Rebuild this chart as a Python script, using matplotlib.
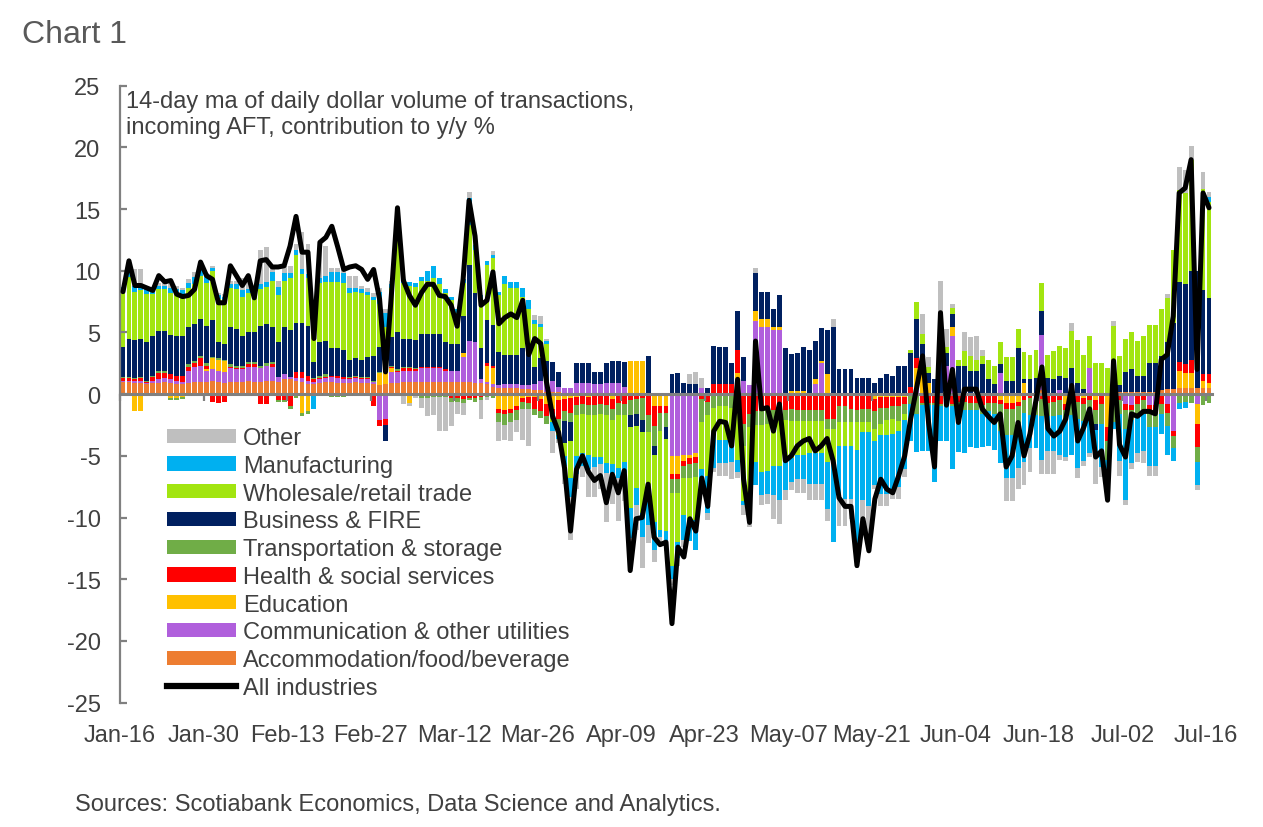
import numpy as np
import matplotlib
matplotlib.use("Agg")
import matplotlib.pyplot as plt
from matplotlib.patches import Patch
from matplotlib.lines import Line2D

plt.rcParams['font.family'] = ['Liberation Sans', 'DejaVu Sans']
plt.rcParams['axes.unicode_minus'] = False

tick_labels = ["Jan-16", "Jan-30", "Feb-13", "Feb-27", "Mar-12", "Mar-26", "Apr-09",
               "Apr-23", "May-07", "May-21", "Jun-04", "Jun-18", "Jul-02", "Jul-16"]

# All industries (line), daily from Jan-16 to Jul-16
all_ind = [
    8.3, 10.8, 8.8, 8.8, 8.6, 8.4, 9.6, 9.1, 9.2, 8.1,
    7.9, 8.0, 8.5, 10.7, 9.6, 9.3, 7.4, 7.4, 10.4, 9.6,
    8.8, 9.6, 7.8, 10.8, 10.9, 10.3, 10.3, 10.4, 12.0, 14.4,
    11.5, 11.5, 4.5, 12.3, 12.7, 13.6, 11.9, 10.1, 10.3, 10.4,
    10.1, 9.3, 10.1, 7.7, 1.8, 8.2, 15.1, 9.2, 8.0, 7.2,
    8.2, 8.9, 8.9, 8.0, 7.9, 7.2, 5.5, 9.3, 15.7, 12.8,
    7.2, 7.6, 9.9, 5.7, 6.2, 6.5, 6.2, 7.6, 3.2, 4.5,
    4.1, 0.9, -1.8, -3.1, -6.0, -11.1, -6.1, -5.0, -6.3, -7.0,
    -6.6, -8.8, -6.5, -8.0, -6.2, -14.3, -10.1, -10.0, -7.3, -11.6,
    -12.2, -12.0, -18.6, -12.4, -13.2, -10.1, -11.1, -6.8, -9.1, -3.0,
    -2.2, -2.3, -4.2, 1.2, -6.9, -10.4, 4.3, -1.2, -1.1, -3.0,
    -0.8, -5.4, -5.0, -4.2, -3.8, -3.6, -4.6, -4.2, -3.6, -5.4,
    -8.4, -9.1, -9.1, -13.9, -10.1, -12.7, -8.5, -6.9, -7.7, -8.0,
    -6.6, -5.0, -2.0, 0.5, 3.1, -2.3, -5.9, 6.6, -0.9, 2.0,
    -2.3, 0.4, 0.4, 0.4, -1.2, -1.8, -2.3, -1.6, -5.9, -5.0,
    -2.3, -5.0, -3.2, -0.5, 2.2, -2.8, -3.4, -3.0, -2.0, 0.7,
    -3.8, -2.7, -1.2, -5.1, -4.6, -8.6, 2.7, -4.1, -5.1, -1.6,
    -1.8, -1.4, -1.4, -1.6, 2.8, 3.2, 6.3, 16.3, 16.7, 19.0,
    2.0, 16.3, 15.1]

accommodation = [
    1.0, 1.0, 0.9, 0.9, 0.8, 0.9, 0.9, 1.0, 0.9, 0.8,
    0.8, 0.9, 1.0, 1.0, 1.0, 1.1, 1.0, 0.9, 1.0, 1.0,
    1.0, 1.1, 1.0, 1.0, 1.1, 1.1, 1.0, 1.2, 1.2, 1.1,
    1.0, 0.8, 0.8, 0.9, 1.0, 1.0, 0.9, 0.9, 0.9, 1.0,
    0.9, 0.9, 0.8, 0.7, 0.8, 0.9, 0.9, 1.0, 1.0, 1.0,
    1.0, 1.0, 1.0, 1.0, 1.0, 1.0, 1.0, 1.0, 1.0, 0.9,
    0.9, 0.8, 0.6, 0.5, 0.5, 0.5, 0.5, 0.4, 0.4, 0.3,
    0.3, 0.2, 0.2, 0.2, 0.1, 0.1, 0.1, 0.1, 0.1, 0.1,
    0.1, 0.1, 0.1, 0.1, 0.1, 0.1, 0.1, 0.1, 0.1, 0.1,
    0.1, 0.1, 0.1, 0.1, 0.1, 0.1, 0.1, 0.1, 0.1, 0.1,
    0.1, 0.1, 0.1, 0.1, 0.1, 0.1, 0.1, 0.1, 0.1, 0.1,
    0.1, 0.1, 0.1, 0.1, 0.1, 0.1, 0.1, 0.1, 0.1, 0.1,
    0.1, 0.1, 0.1, 0.1, 0.1, 0.1, 0.1, 0.1, 0.1, 0.1,
    0.1, 0.1, 0.1, 0.1, 0.1, 0.1, 0.1, 0.1, 0.1, 0.1,
    0.1, 0.1, 0.1, 0.1, 0.1, 0.1, 0.1, 0.1, 0.1, 0.1,
    0.1, 0.1, 0.1, 0.1, 0.3, 0.1, 0.1, 0.1, 0.1, 0.1,
    0.1, 0.1, 0.1, 0.1, 0.1, 0.1, 0.1, 0.2, 0.2, 0.2,
    0.2, 0.2, 0.2, 0.2, 0.3, 0.4, 0.4, 0.5, 0.5, 0.5,
    0.5, 0.5, 0.5]

communication = [
    0.1, 0.1, 0.2, 0.2, 0.1, 0.2, 0.3, 0.3, 0.3, 0.3,
    0.2, 1.0, 1.2, 1.3, 0.9, 0.9, 0.9, 0.9, 1.1, 1.0,
    1.0, 1.1, 1.2, 1.1, 1.2, 1.1, 0.4, 0.4, 0.2, 0.2,
    0.3, 0.3, 0.2, 0.3, 0.3, 0.4, 0.4, 0.3, 0.3, 0.3,
    0.3, 0.3, 0.2, -2.1, -2.0, 0.9, 0.9, 0.9, 0.9, 0.9,
    1.1, 1.1, 1.1, 1.1, 0.9, 0.9, 0.9, 2.0, 3.3, 3.3,
    0.3, 0.2, 0.2, 0.2, 0.3, 0.3, 0.3, 0.3, 0.3, 0.5,
    0.8, 0.9, 0.9, 0.4, 0.4, 0.4, 0.8, 0.8, 0.8, 0.7,
    0.7, 0.8, 0.8, 0.8, 0.5, 0.0, 0.0, 0.0, 0.0, 0.0,
    0.0, 0.0, -5.0, -5.0, -4.9, -4.9, -4.8, 0.4, 0.0, 0.0,
    0.0, 0.0, 0.0, 1.1, 1.0, 0.6, 5.8, 5.3, 5.3, 5.1,
    5.1, 0.0, 0.0, 0.0, 0.0, 0.0, 0.7, 2.4, 0.0, 0.0,
    0.0, 0.0, 0.0, 0.0, 0.0, 0.0, 0.0, 0.0, 0.0, 0.0,
    0.0, 0.0, 0.0, 0.4, 0.0, 0.0, 0.0, 0.0, 2.2, 4.6,
    0.0, 0.0, 0.0, 0.0, 0.0, 0.0, 0.0, 1.6, 0.0, 0.0,
    0.0, 0.0, 0.0, 0.0, 4.5, 0.0, 0.0, 0.2, 0.0, 0.0,
    0.0, 0.0, 2.0, 0.0, 0.0, 0.0, 0.0, 0.0, -0.8, -0.9,
    0.0, 0.0, -0.9, -0.9, 0.0, -0.8, -3.0, 0.0, 0.0, 0.0,
    -0.8, 0.0, 0.0]

education = [
    0.0, 0.0, -1.4, -1.4, 0.0, 0.0, 0.0, 0.0, -0.3, -0.3,
    -0.2, 0.0, 0.0, 0.0, 0.1, 0.9, 0.9, 0.9, 0.0, 0.0,
    0.0, 0.0, 0.0, 0.0, 0.0, 0.0, 0.0, 0.0, 0.0, 0.0,
    -1.5, -1.4, 0.0, 0.0, 0.0, 0.0, 0.0, 0.0, 0.0, 0.0,
    0.0, 0.0, 0.0, 1.0, 1.0, 0.3, 0.0, 0.0, -0.7, 0.0,
    0.0, 0.0, 0.0, 0.0, 0.0, 0.0, 0.0, 0.3, 0.0, 0.0,
    0.0, 1.3, 1.3, -1.2, -1.3, -1.2, -1.0, -0.3, -0.2, -0.2,
    -0.4, -0.8, -1.2, -0.5, -0.4, -0.3, -0.2, -0.1, -0.2, -0.1,
    -0.1, -0.1, -0.4, -0.1, -0.1, 2.6, 2.6, 2.6, -0.1, -1.0,
    -1.0, -1.0, -1.5, -1.5, -0.5, -0.3, -0.3, -0.1, -0.1, 0.0,
    0.0, 0.0, 0.0, 0.5, 0.0, 0.0, 0.8, 0.7, 0.7, 0.2,
    0.2, 0.0, 0.15, 0.15, 0.15, 0.0, 0.4, 0.15, 1.5, 0.0,
    0.0, 0.0, 0.0, 0.0, 0.0, 0.0, -0.4, -0.2, -0.2, -0.2,
    -0.2, -0.2, 0.0, 1.6, 1.6, 0.8, 0.0, 0.0, 0.0, 0.7,
    0.0, 0.0, 0.0, 0.0, 0.0, 0.0, 0.0, -0.5, -0.7, -0.7,
    -0.6, 0.8, 0.0, 0.0, 0.0, 0.0, 0.0, 0.0, -0.8, 0.0,
    0.0, -0.3, 0.0, -0.5, 0.0, -2.7, -0.3, 0.0, 0.0, 0.0,
    0.0, 0.0, 0.0, 0.0, 0.0, 0.0, 0.0, 1.4, 1.2, 1.2,
    -1.6, 0.6, 0.4]

health = [
    0.2, 0.2, 0.1, 0.2, 0.1, 0.3, 0.5, 0.4, 0.4, 0.4,
    0.5, 0.3, 0.3, 0.6, 0.3, -0.6, -0.7, -0.6, 0.1, 0.1,
    0.1, 0.2, 0.2, -0.8, -0.8, 0.2, -0.5, -0.5, -1.0, 0.5,
    0.5, 0.4, 0.2, 0.1, 0.1, 0.1, 0.2, 0.2, 0.1, 0.1,
    0.1, 0.1, -1.0, -0.5, -0.5, 0.1, 0.1, 0.2, 0.2, 0.1,
    0.1, 0.1, 0.1, 0.1, 0.1, -0.3, -0.3, -0.4, -0.3, -0.3,
    -0.2, 0.2, 0.2, -0.3, -0.3, -0.3, -0.3, -0.3, -0.5, -1.0,
    -1.0, -1.0, -0.4, -1.5, -1.0, -1.2, -0.7, -0.7, -0.7, -0.8,
    -0.7, -0.8, -0.8, -0.6, -0.7, -0.5, -0.4, -0.3, -1.6, -1.6,
    -0.5, -0.5, -0.4, -0.4, -0.4, -0.5, -0.5, -0.3, -0.5, 0.7,
    0.7, 0.7, 0.7, 1.9, -2.4, -1.6, -1.4, -1.4, -1.3, -1.3,
    -1.3, -1.3, -1.2, -1.3, -1.3, -1.3, -1.3, -1.3, -2.0, -2.0,
    -1.0, -1.0, -1.2, -1.3, -1.2, -1.2, -1.0, -0.9, -0.9, -0.8,
    -0.8, -0.6, 0.5, 0.8, -0.7, -0.7, -0.7, -0.8, -0.8, -0.8,
    -0.6, -0.6, -0.7, -0.7, -0.9, -0.7, -0.7, -0.3, -0.5, -0.5,
    -0.4, -0.5, -0.3, -0.4, -0.4, -0.7, -0.6, -0.5, -0.5, -0.5,
    -0.6, -0.5, -0.5, -0.8, -0.8, -1.1, -0.5, -0.5, -0.5, -0.4,
    -0.8, -0.5, -0.4, -0.4, -0.8, -0.7, -0.4, 0.7, 0.7, 1.1,
    -1.9, 0.5, 0.7]

transportation = [
    0.1, 0.1, 0.1, 0.1, 0.1, 0.1, 0.2, 0.2, -0.2, -0.2,
    -0.2, 0.2, 0.2, 0.2, 0.2, 0.1, 0.1, 0.1, 0.2, 0.2,
    0.2, 0.2, 0.2, 0.2, 0.2, 0.2, -0.1, -0.1, -0.2, -0.3,
    -0.3, -0.2, 0.1, 0.2, 0.2, -0.2, -0.2, -0.2, 0.1, 0.1,
    0.1, 0.1, 0.1, 0.1, 0.1, 0.1, 0.1, 0.1, 0.1, 0.1,
    -0.3, -0.3, -0.2, -0.2, -0.2, -0.3, -0.3, -0.3, -0.2, -0.3,
    -0.3, -0.2, -0.3, -0.8, -0.9, -0.8, -0.8, -0.6, -0.5, -0.5,
    -0.5, -0.6, -0.4, -0.8, -0.8, -0.8, -0.8, -0.8, -0.8, -0.8,
    -0.8, -0.8, -0.9, -1.0, -0.9, -1.2, -1.2, -1.8, -1.4, -1.6,
    -1.5, -1.2, -1.1, -1.1, -1.0, -1.1, -1.1, -1.9, -1.1, -1.1,
    -1.0, -1.0, -1.1, -1.0, -1.8, -1.1, -1.1, -1.1, -1.1, -0.9,
    -0.9, -0.8, -1.0, -0.9, -0.9, -0.9, -0.9, -0.9, -0.8, -0.8,
    -1.3, -1.3, -1.1, -1.0, -1.1, -1.1, -1.4, -1.3, -1.0, -1.0,
    -1.2, -0.8, -0.8, -1.6, -0.2, -0.2, -0.2, -0.2, -0.2, -0.2,
    -0.6, -0.7, -0.6, -0.6, -0.7, -0.7, -0.9, -2.2, -2.1, -2.1,
    -1.5, -1.0, -1.4, -1.3, -1.4, -1.1, -1.2, -1.2, -0.8, -1.2,
    -1.4, -1.4, -0.8, -1.1, -1.6, -1.5, -1.5, -1.1, -1.5, -0.8,
    -0.8, -1.1, -1.4, -1.4, -0.8, -1.1, -1.0, -0.7, -0.6, -0.7,
    -1.2, -0.9, -0.7]

business = [
    2.4, 3.1, 3.1, 3.1, 3.1, 3.2, 3.2, 3.2, 3.2, 3.2,
    3.2, 3.0, 3.0, 3.0, 3.0, 3.0, 1.3, 1.3, 3.0, 3.0,
    2.4, 2.4, 2.4, 3.2, 3.2, 2.8, 2.8, 3.8, 3.8, 4.0,
    4.0, 4.0, 1.3, 2.7, 2.7, 2.2, 2.2, 2.2, 1.4, 1.4,
    1.4, 1.6, 2.0, 2.0, -1.3, 2.3, 3.0, 2.3, 2.3, 2.3,
    2.7, 2.7, 2.7, 2.7, 2.2, 2.2, 2.2, 3.0, 6.2, 4.0,
    2.5, 3.5, 3.3, 2.7, 2.4, 2.4, 2.4, 3.0, 3.0, 1.4,
    1.8, 1.6, 1.5, 1.2, -1.8, -1.5, 1.6, 1.6, 1.6, 1.0,
    1.0, 1.6, 1.8, 1.8, 2.0, -1.0, -1.0, -1.0, 3.0, -0.7,
    0.0, -0.9, 1.5, 1.6, 0.8, 0.7, 0.7, 0.0, 0.4, 3.1,
    3.0, 3.0, 1.7, 3.1, 1.9, 0.0, 3.1, 2.2, 2.2, 1.5,
    2.6, 3.6, 3.0, 3.1, 3.6, 3.5, 3.1, 2.7, 3.6, 5.3,
    1.9, 1.9, 1.9, 1.2, 1.2, 1.2, 0.8, 1.2, 1.5, 1.4,
    2.2, 2.2, 2.7, 3.2, 2.4, 0.8, 1.1, 5.5, 1.0, 1.1,
    2.2, 2.2, 1.8, 1.8, 2.3, 1.1, 0.7, 0.7, 1.0, 1.0,
    3.6, 0.3, 1.1, 1.2, 1.9, 1.2, 1.1, 1.2, 1.2, 2.0,
    0.8, 0.3, 0.0, -0.5, 0.0, 0.0, 0.0, 0.5, 1.6, 1.8,
    1.3, 1.3, 2.3, 2.3, 2.8, 3.8, 5.4, 6.5, 6.5, 7.2,
    9.5, 6.8, 6.2]

wholesale = [
    4.6, 5.0, 3.9, 3.9, 3.9, 3.4, 3.4, 3.4, 3.4, 3.4,
    3.2, 3.2, 3.2, 3.5, 3.5, 4.0, 3.5, 3.5, 3.2, 3.2,
    3.2, 3.2, 3.0, 3.0, 3.0, 3.8, 3.8, 3.8, 4.2, 5.5,
    3.9, 3.9, 2.5, 4.8, 4.8, 5.4, 5.4, 5.4, 5.4, 5.4,
    5.4, 5.0, 4.5, 3.5, 3.5, 4.0, 7.5, 4.5, 4.3, 4.3,
    4.3, 4.3, 4.5, 4.0, 4.0, 3.5, 2.5, 2.7, 3.2, 3.5,
    4.0, 4.5, 5.4, 4.6, 5.7, 5.4, 5.4, 4.2, 3.2, 3.5,
    2.5, 1.4, -0.3, -0.5, -1.0, -3.0, -3.3, -3.2, -3.2, -3.4,
    -3.5, -3.9, -3.6, -4.3, -3.8, -6.5, -5.0, -6.5, -5.5, -5.5,
    -8.0, -7.5, -5.9, -4.0, -3.0, -3.5, -3.5, -3.8, -4.9, -2.2,
    -2.7, -2.7, -3.0, -4.3, -4.5, -7.0, -3.0, -3.8, -3.8, -3.6,
    -3.6, -3.0, -3.0, -2.7, -2.7, -2.6, -2.6, -2.6, -2.7, -2.7,
    -1.9, -1.9, -1.9, -2.2, -0.8, -0.8, -1.0, -0.9, -1.2, -1.2,
    -0.8, -0.5, 0.3, 1.4, 0.8, 0.5, 0.0, 0.4, 0.5, 0.5,
    0.5, 1.2, 1.2, 0.9, 0.7, 1.6, 1.5, 1.8, 1.9, 1.9,
    1.6, 2.2, 2.0, 2.3, 2.3, 1.9, 2.3, 2.4, 2.4, 3.0,
    3.5, 2.8, 2.6, 2.4, 2.4, 2.0, 5.4, 2.4, 2.7, 3.0,
    2.8, 3.2, 3.1, 3.1, 3.8, 3.6, 5.9, 7.4, 7.4, 9.0,
    0.0, 8.2, 7.8]

manufacturing = [
    0.3, 0.5, 0.5, 0.4, 0.4, 0.3, 0.3, 0.3, 0.4, 0.4,
    0.5, 0.4, 0.6, 0.5, 0.5, 0.2, 0.3, 0.3, 0.3, 0.4,
    0.5, 0.3, 0.4, 0.4, 0.4, 0.7, 0.7, 0.6, 0.4, 0.4,
    0.4, 0.3, -1.2, 0.4, 0.5, 0.8, 0.8, 0.8, 0.4, 0.3,
    0.3, 0.3, 0.3, 1.0, 1.2, 0.3, 0.4, 0.3, 0.3, 0.3,
    0.3, 0.8, 1.0, 0.5, 0.3, 0.3, 0.3, 0.3, 2.2, 0.4,
    0.3, 0.3, 0.3, 0.3, 0.7, 0.5, 0.5, 0.7, 0.7, 0.3,
    0.3, 0.2, -0.7, -0.3, -0.8, -1.5, -1.5, -1.0, -1.2, -0.8,
    -0.6, -0.8, -0.7, -0.8, -0.9, -2.5, -1.4, -2.0, -2.0, -2.2,
    -0.6, -0.8, -1.1, -1.3, -2.0, -1.6, -2.4, -1.1, -3.0, -2.7,
    -1.9, -1.9, -1.4, -1.0, -0.3, -0.5, -1.9, -1.9, -1.9, -2.4,
    -2.8, -2.7, -1.9, -2.0, -2.0, -2.5, -2.5, -2.5, -3.8, -6.5,
    -4.3, -4.3, -4.3, -8.6, -5.5, -6.0, -3.6, -4.8, -4.8, -4.5,
    -4.5, -4.0, -3.0, -3.1, -3.7, -3.7, -6.2, -2.8, -2.8, -5.1,
    -3.5, -3.5, -3.0, -3.1, -2.7, -2.8, -2.9, -2.6, -3.5, -3.5,
    -3.5, -4.0, -2.7, -2.7, -3.5, -2.8, -2.8, -3.2, -3.0, -3.2,
    -4.0, -3.2, -3.5, -2.2, -3.5, -1.2, -0.5, -3.8, -5.8, -3.5,
    -3.2, -3.0, -3.1, -3.1, -1.6, -2.3, -1.0, -0.5, -0.5, 0.0,
    -1.9, 0.0, 0.4]

other = [
    0.0, 0.5, 1.3, 1.3, 0.2, 0.3, 0.2, 0.2, 0.3, 0.3,
    0.2, 0.3, 0.4, 0.3, 0.3, 0.2, 0.2, 0.2, 0.3, 0.3,
    1.0, 0.8, 0.4, 2.8, 2.8, 0.4, 0.5, 0.6, 0.6, 0.5,
    3.0, 2.5, 0.2, 2.4, 2.4, 0.3, 0.3, 0.3, 1.0, 1.0,
    0.3, 0.3, 0.3, 0.3, 0.3, 0.3, 0.5, -0.8, -0.3, -0.3,
    -0.8, -1.5, -1.5, -2.8, -2.8, -2.0, -1.0, -1.0, 0.5, 0.3,
    -1.5, -0.3, 0.3, -1.5, -1.2, -1.5, -1.0, -2.5, -3.0, 0.4,
    0.6, 0.2, -1.8, -0.4, -1.5, -3.5, -1.2, -0.9, -2.2, -2.4,
    -2.0, -4.0, -2.5, -3.5, -2.3, -2.5, -2.0, -2.5, -1.5, -1.0,
    -0.6, -0.8, -0.5, -0.6, -0.6, 0.8, 1.0, 0.8, -0.6, -0.3,
    -1.0, -1.0, -1.4, -0.5, -0.8, -0.6, 0.4, -0.8, -0.8, -1.9,
    -1.9, -0.8, -0.7, -1.1, -1.1, -1.3, -1.3, -1.3, -1.0, 0.7,
    -2.2, -2.2, -1.6, -1.0, -2.7, -2.7, -0.3, -1.0, -1.0, -0.8,
    -1.0, -0.6, 0.0, 0.0, 1.6, 0.8, 0.0, 3.2, 1.5, 0.3,
    0.0, 1.5, 1.5, 1.9, 0.5, 0.0, 0.0, 0.0, -1.9, -1.9,
    -1.7, -1.9, -1.9, 0.0, -1.2, -1.9, -1.9, -0.4, -0.3, 0.7,
    -0.8, -0.4, -0.3, -2.2, -0.8, -1.4, 0.4, -1.2, -0.4, -0.5,
    -0.7, -1.0, -0.8, -0.8, 0.0, 0.3, 0.0, 1.9, 1.9, 1.1,
    -0.4, 1.4, 0.4]

# stacking order (first = closest to zero) with legend labels and colours
series = [
    (accommodation, "Accommodation/food/beverage", "#ED7D31"),
    (communication, "Communication & other utilities", "#B05FDC"),
    (education, "Education", "#FFC000"),
    (health, "Health & social services", "#FF0000"),
    (transportation, "Transportation & storage", "#70AD47"),
    (business, "Business & FIRE", "#002060"),
    (wholesale, "Wholesale/retail trade", "#A2E510"),
    (manufacturing, "Manufacturing", "#00B0F0"),
    (other, "Other", "#BFBFBF"),
]

n = len(all_ind)
for vals, lab, col in series:
    assert len(vals) == n, (lab, len(vals), n)

W, H = 1263, 828
fig = plt.figure(figsize=(W / 100, H / 100), dpi=100)
ax_left, ax_right, ax_top, ax_bot = 120, 1212, 86.6, 703.6
ax = fig.add_axes([ax_left / W, 1 - ax_bot / H, (ax_right - ax_left) / W, (ax_bot - ax_top) / H])

x = np.arange(n)
pos_b = np.zeros(n)
neg_b = np.zeros(n)
for vals, lab, col in series:
    v = np.asarray(vals, dtype=float)
    p = np.clip(v, 0, None)
    q = np.clip(v, None, 0)
    ax.bar(x, p, bottom=pos_b, width=0.82, color=col, linewidth=0, zorder=1)
    ax.bar(x, q, bottom=neg_b, width=0.82, color=col, linewidth=0, zorder=1)
    pos_b += p
    neg_b += q

ax.plot(x, all_ind, color="black", lw=3.6, zorder=4, solid_joinstyle="round",
        solid_capstyle="round")

ax.set_xlim(-0.5, n - 0.5)
ax.set_ylim(-25, 25)
ax.set_yticks(np.arange(-25, 26, 5))

axis_col = "#808080"
text_col = "#404040"
fs = 17
ax.spines["top"].set_visible(False)
ax.spines["right"].set_visible(False)
ax.spines["left"].set_color(axis_col)
ax.spines["left"].set_linewidth(1.6)
ax.spines["bottom"].set_position(("data", 0))
ax.spines["bottom"].set_color(axis_col)
ax.spines["bottom"].set_linewidth(2.2)

tick_pos = np.arange(len(tick_labels)) * 14 - 0.5
ax.set_xticks(tick_pos)
ax.tick_params(axis="x", direction="out", length=5, width=1.6, color=axis_col,
               labelbottom=False)
ax.tick_params(axis="y", direction="in", length=5, width=1.6, color=axis_col,
               labelsize=fs, labelcolor=text_col, pad=14)

sec = ax.secondary_xaxis("bottom")
sec.set_xticks(tick_pos)
sec.set_xticklabels(tick_labels)
sec.tick_params(axis="x", length=0, pad=15.5, labelsize=fs, labelcolor=text_col)
sec.spines["bottom"].set_visible(False)

fig.text(22 / W, 1 - 20 / H, "Chart 1", fontsize=23, color="#595959", va="top", ha="left")
fig.text(126 / W, 1 - 91 / H,
         "14-day ma of daily dollar volume of transactions,\nincoming AFT, contribution to y/y %",
         fontsize=fs, color=text_col, va="top", ha="left", linespacing=1.23)
fig.text(75 / W, 1 - 805 / H, "Sources: Scotiabank Economics, Data Science and Analytics.",
         fontsize=fs, color=text_col, va="center", ha="left")

handles = [Patch(facecolor=col, edgecolor="none") for vals, lab, col in series[::-1]]
labels = [lab for vals, lab, col in series[::-1]]
handles.append(Line2D([], [], color="black", lw=4.5))
labels.append("All industries")
leg = ax.legend(handles, labels, loc="upper left", bbox_to_anchor=(167 / W, 1 - 428 / H),
                bbox_transform=fig.transFigure, frameon=False, fontsize=fs,
                handlelength=2.92, handleheight=0.55, handletextpad=0.3,
                labelspacing=0.245, borderpad=0, borderaxespad=0)
for t in leg.get_texts():
    t.set_color(text_col)
leg.set_zorder(5)

fig.savefig("out.png", dpi=100)
